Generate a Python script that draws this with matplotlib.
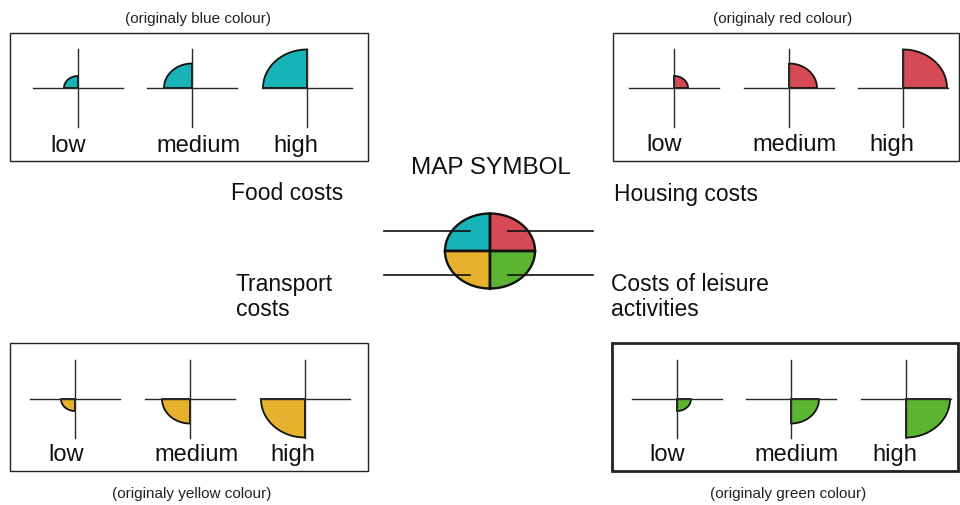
import numpy as np
import matplotlib
matplotlib.use("Agg")
import matplotlib.pyplot as plt
from matplotlib.patches import Polygon, Rectangle

# ---- data ----
levels = ["low", "medium", "high"]
level_rx = [14, 28, 44]          # horizontal radius of quarter symbol (px)
level_ry = [12, 24.5, 38.5]      # vertical radius of quarter symbol (px)

categories = ["Food costs", "Housing costs", "Transport\ncosts", "Costs of leisure\nactivities"]
cat_colors = ["#17b4b7", "#d54a55", "#e6b22e", "#5cb532"]
cat_quadrant = [(90, 180), (0, 90), (180, 270), (270, 360)]
captions = ["(originaly blue colour)", "(originaly red colour)",
            "(originaly yellow colour)", "(originaly green colour)"]

# ---- layout (pixel coordinates, y downwards) ----
panel_boxes = [(10, 34, 358, 128), (613, 34, 346, 128),
               (10, 344, 358, 128), (612, 344, 346, 128)]
panel_box_lw = [1.0, 1.0, 1.0, 2.0]
cross_x = [[78, 192, 307], [674, 789, 903], [75, 190, 305], [677, 791, 906]]
cross_y = [89, 89, 400, 400]
label_x = [[68, 198, 296], [664, 794, 892], [66, 196, 293], [667, 797, 895]]
label_y = [146, 145, 455, 455]
caption_xy = [(198, 19), (783, 19), (192, 494), (788, 494)]
cat_text_xy = [(231, 194), (614, 195), (236, 297), (611, 297)]

sym_cx, sym_cy, sym_rx, sym_ry = 490, 252, 45, 37.5

fig = plt.figure(figsize=(9.6, 5.06), dpi=100)
ax = fig.add_axes([0, 0, 1, 1])
ax.set_xlim(0, 960)
ax.set_ylim(506, 0)
ax.axis("off")

font = ["Liberation Sans", "DejaVu Sans"]
line_col = "#2a2a2a"


def quarter(cx, cy, rx, ry, t1, t2):
    t = np.radians(np.linspace(t1, t2, 60))
    xs = cx + rx * np.cos(t)
    ys = cy - ry * np.sin(t)
    pts = np.vstack([[cx, cy], np.column_stack([xs, ys])])
    return pts


for i in range(4):
    bx, by, bw, bh = panel_boxes[i]
    ax.add_patch(Rectangle((bx, by), bw, bh, fill=False, ec="#222222",
                           lw=panel_box_lw[i], zorder=1))
    t1, t2 = cat_quadrant[i]
    for j, lev in enumerate(levels):
        cx, cy = cross_x[i][j], cross_y[i]
        pts = quarter(cx, cy, level_rx[j], level_ry[j], t1, t2)
        ax.add_patch(Polygon(pts, closed=True, fc=cat_colors[i], ec="#111111",
                             lw=1.3, zorder=2))
        ax.plot([cx - 45, cx + 45], [cy, cy], color=line_col, lw=1.0, zorder=3)
        ax.plot([cx, cx], [cy - 39, cy + 39], color=line_col, lw=1.0, zorder=3)
        ax.text(label_x[i][j], label_y[i], lev, ha="center", va="center",
                fontsize=17, family=font, color="#111111")
    ax.text(caption_xy[i][0], caption_xy[i][1], captions[i], ha="center",
            va="center", fontsize=11, family=font, color="#222222")
    ax.text(cat_text_xy[i][0], cat_text_xy[i][1], categories[i], ha="left",
            va="center", fontsize=16.5, family=font, color="#111111",
            linespacing=1.1)

# ---- central map symbol ----
for i in range(4):
    t1, t2 = cat_quadrant[i]
    pts = quarter(sym_cx, sym_cy, sym_rx, sym_ry, t1, t2)
    ax.add_patch(Polygon(pts, closed=True, fc=cat_colors[i], ec="#111111",
                         lw=1.7, zorder=2))
ax.plot([sym_cx, sym_cx], [sym_cy - sym_ry, sym_cy + sym_ry], color="#111111", lw=1.7, zorder=3)
ax.plot([sym_cx - sym_rx, sym_cx + sym_rx], [sym_cy, sym_cy], color="#111111", lw=1.7, zorder=3)
for yy in (232, 276):
    ax.plot([384, 470], [yy, yy], color="#111111", lw=1.2, zorder=4)
    ax.plot([508, 593], [yy, yy], color="#111111", lw=1.2, zorder=4)
ax.text(491, 168, "MAP SYMBOL", ha="center", va="center", fontsize=17.5,
        family=font, color="#111111")

fig.savefig("out.png", dpi=100)
